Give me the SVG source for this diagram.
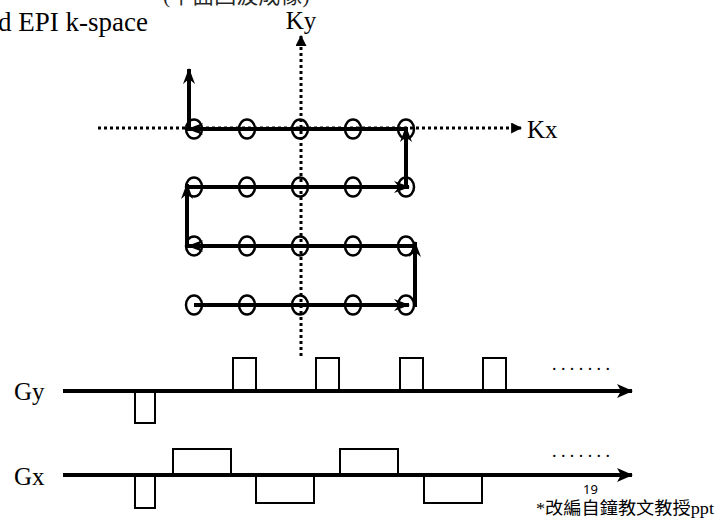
<svg xmlns="http://www.w3.org/2000/svg" width="716" height="519" viewBox="0 0 716 519">
<style>
.t{font-family:"Liberation Serif","Noto Sans CJK TC",serif;fill:#000}
.dot{stroke:#000;stroke-width:3;stroke-dasharray:3 3;fill:none}
.traj{stroke:#000;stroke-width:4;fill:none}
.pt{stroke:#000;stroke-width:2.5;fill:none}
.ax{stroke:#000;stroke-width:4;fill:none}
.pulse{stroke:#000;stroke-width:2;fill:none}
</style>
<defs>
<marker id="st" viewBox="0 0 16 12" refX="15" refY="6" markerWidth="16" markerHeight="12" markerUnits="userSpaceOnUse" orient="auto">
<path d="M0,0 L16,6 L0,12 L5,6 z" fill="#000"/>
</marker>
<marker id="tri" viewBox="0 0 10 10" refX="9" refY="5" markerWidth="11" markerHeight="11" markerUnits="userSpaceOnUse" orient="auto">
<path d="M0,0 L10,5 L0,10 z" fill="#000"/>
</marker>
<marker id="ax" viewBox="0 0 16 14" refX="15" refY="7" markerWidth="16" markerHeight="14" markerUnits="userSpaceOnUse" orient="auto">
<path d="M0,0 L16,7 L0,14 L4,7 z" fill="#000"/>
</marker>
</defs>

<g id="title">
<text class="t" x="163" y="3" font-size="22" fill-opacity="0.85">(平面回波成像)</text>
<text class="t" x="148" y="31" font-size="27" text-anchor="end">Blipped EPI k-space</text>
</g>

<g id="axes">
<line class="dot" x1="98" y1="128" x2="521" y2="128" marker-end="url(#tri)"/>
<line class="dot" x1="301" y1="356" x2="301" y2="36" marker-end="url(#tri)"/>
<text class="t" x="527" y="138" font-size="25">Kx</text>
<text class="t" x="301" y="29" font-size="25" text-anchor="middle">Ky</text>
</g>

<g id="connectors">
<line class="traj" x1="194" y1="305" x2="409" y2="305" marker-end="url(#st)"/>
<line class="traj" x1="415" y1="307" x2="415" y2="242" marker-end="url(#st)"/>
<line class="traj" x1="415" y1="246" x2="188" y2="246" marker-end="url(#st)"/>
<line class="traj" x1="187" y1="248" x2="187" y2="184" marker-end="url(#st)"/>
<line class="traj" x1="187" y1="187" x2="409" y2="187" marker-end="url(#st)"/>
<line class="traj" x1="406" y1="189" x2="406" y2="127" marker-end="url(#st)"/>
<line class="traj" x1="406" y1="129" x2="188" y2="129" marker-end="url(#st)"/>
<line class="traj" x1="189" y1="131" x2="189" y2="69" marker-end="url(#st)"/>
</g>

<g id="samples">
<g class="pt">
<ellipse cx="194" cy="129" rx="8" ry="9.5"/><ellipse cx="247" cy="129" rx="8" ry="9.5"/><ellipse cx="300" cy="129" rx="8" ry="9.5"/><ellipse cx="353" cy="129" rx="8" ry="9.5"/><ellipse cx="406" cy="129" rx="8" ry="9.5"/>
<ellipse cx="194" cy="187" rx="8" ry="9.5"/><ellipse cx="247" cy="187" rx="8" ry="9.5"/><ellipse cx="300" cy="187" rx="8" ry="9.5"/><ellipse cx="353" cy="187" rx="8" ry="9.5"/><ellipse cx="406" cy="187" rx="8" ry="9.5"/>
<ellipse cx="194" cy="246" rx="8" ry="9.5"/><ellipse cx="247" cy="246" rx="8" ry="9.5"/><ellipse cx="300" cy="246" rx="8" ry="9.5"/><ellipse cx="353" cy="246" rx="8" ry="9.5"/><ellipse cx="406" cy="246" rx="8" ry="9.5"/>
<ellipse cx="194" cy="305" rx="8" ry="9.5"/><ellipse cx="247" cy="305" rx="8" ry="9.5"/><ellipse cx="300" cy="305" rx="8" ry="9.5"/><ellipse cx="353" cy="305" rx="8" ry="9.5"/><ellipse cx="406" cy="305" rx="8" ry="9.5"/>
</g>
</g>

<g id="gy">
<text class="t" x="14" y="400" font-size="25">Gy</text>
<line class="ax" x1="63" y1="391" x2="632" y2="391" marker-end="url(#ax)"/>
<path class="pulse" d="M233,391 V358 H256 V391 M316,391 V358 H339 V391 M400,391 V358 H423 V391 M483,391 V358 H506 V391 M135,391 V423 H155 V391"/>
<text class="t" x="552" y="370" font-size="18" textLength="58" lengthAdjust="spacing">.......</text>
</g>

<g id="gx">
<text class="t" x="14" y="485" font-size="25">Gx</text>
<line class="ax" x1="63" y1="475" x2="632" y2="475" marker-end="url(#ax)"/>
<path class="pulse" d="M173,475 V449 H231 V475 M340,475 V449 H398 V475 M256,475 V503 H314 V475 M424,475 V503 H482 V475 M135,475 V508 H155 V475"/>
<text class="t" x="552" y="457" font-size="18" textLength="58" lengthAdjust="spacing">.......</text>
</g>

<g id="footer">
<text x="583" y="494" font-size="13" font-family="'Noto Sans','DejaVu Sans',sans-serif">19</text>
<text class="t" x="536" y="514" font-size="17" textLength="178" lengthAdjust="spacingAndGlyphs">*改編自鐘教文教授ppt</text>
</g>
</svg>
